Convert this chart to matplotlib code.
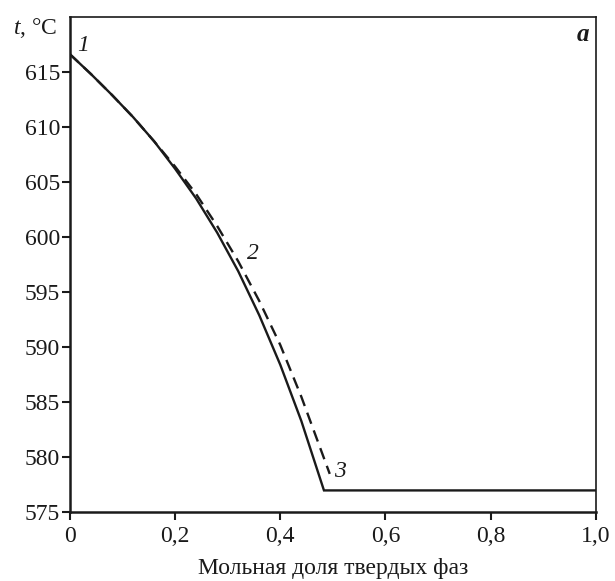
import matplotlib
matplotlib.use("Agg")

import matplotlib.pyplot as plt

# solid curve: crystallisation, then eutectic plateau
solid_x = [0, 0.04, 0.08, 0.12, 0.16, 0.20, 0.24, 0.28, 0.32, 0.36, 0.40, 0.44, 0.483, 1.0]
solid_t = [616.6, 614.8, 612.9, 610.9, 608.7, 606.2, 603.5, 600.4, 596.9, 592.9, 588.4, 583.3, 577.0, 577.0]

# dashed curve
dashed_x = [0, 0.04, 0.08, 0.12, 0.16, 0.20, 0.24, 0.28, 0.32, 0.36, 0.40, 0.44, 0.494]
dashed_t = [616.6, 614.8, 612.9, 610.9, 608.7, 606.4, 603.9, 601.0, 597.8, 594.2, 590.2, 585.5, 578.5]

x_ticks = [0, 0.2, 0.4, 0.6, 0.8, 1.0]
x_tick_labels = ["0", "0,2", "0,4", "0,6", "0,8", "1,0"]
y_ticks = [575, 580, 585, 590, 595, 600, 605, 610, 615]

point_labels = ["1", "2", "3"]
point_x = [0.025, 0.347, 0.513]
point_t = [617.4, 598.5, 578.7]

plt.rcParams["font.family"] = ["Liberation Serif", "DejaVu Serif"]
plt.rcParams["mathtext.fontset"] = "custom"
plt.rcParams["mathtext.rm"] = "Liberation Serif"
plt.rcParams["mathtext.it"] = "Liberation Serif:italic"


def main():
    fig = plt.figure(figsize=(6.15, 5.81), dpi=100)
    ax = fig.add_axes([0.1138, 0.118, 0.855, 0.853])

    ax.plot(solid_x, solid_t, color="#1a1a1a", linewidth=1.7, solid_joinstyle="miter")
    ax.plot(dashed_x, dashed_t, color="#1a1a1a", linewidth=1.7, linestyle=(0, (5, 3)))

    ax.set_xlim(0, 1.0)
    ax.set_ylim(575, 620)
    ax.set_xticks(x_ticks)
    ax.set_xticklabels(x_tick_labels)
    ax.set_yticks(y_ticks)

    ax.tick_params(direction="out", length=6, width=1.5, labelsize=17, colors="#1a1a1a")
    ax.tick_params(axis="x", pad=4)
    ax.tick_params(axis="y", pad=1)
    for side in ["left", "bottom"]:
        ax.spines[side].set_linewidth(1.8)
    for side in ["top", "right"]:
        ax.spines[side].set_linewidth(1.2)
    for spine in ax.spines.values():
        spine.set_color("#1a1a1a")

    ax.set_xlabel("Мольная доля твердых фаз", fontsize=17, color="#1a1a1a", labelpad=8)

    for label, x, t in zip(point_labels, point_x, point_t):
        ax.text(x, t, label, fontsize=17, style="italic", ha="center", va="center", color="#1a1a1a")

    ax.text(-0.025, 619.0, r"$t$, °C", fontsize=17, ha="right", va="center",
            color="#1a1a1a", clip_on=False)
    ax.text(0.975, 618.4, "a", fontsize=18, style="italic", fontweight="bold",
            ha="center", va="center", color="#1a1a1a")

    fig.savefig("out.png", dpi=100)
    plt.close(fig)


if __name__ == "__main__":
    main()
